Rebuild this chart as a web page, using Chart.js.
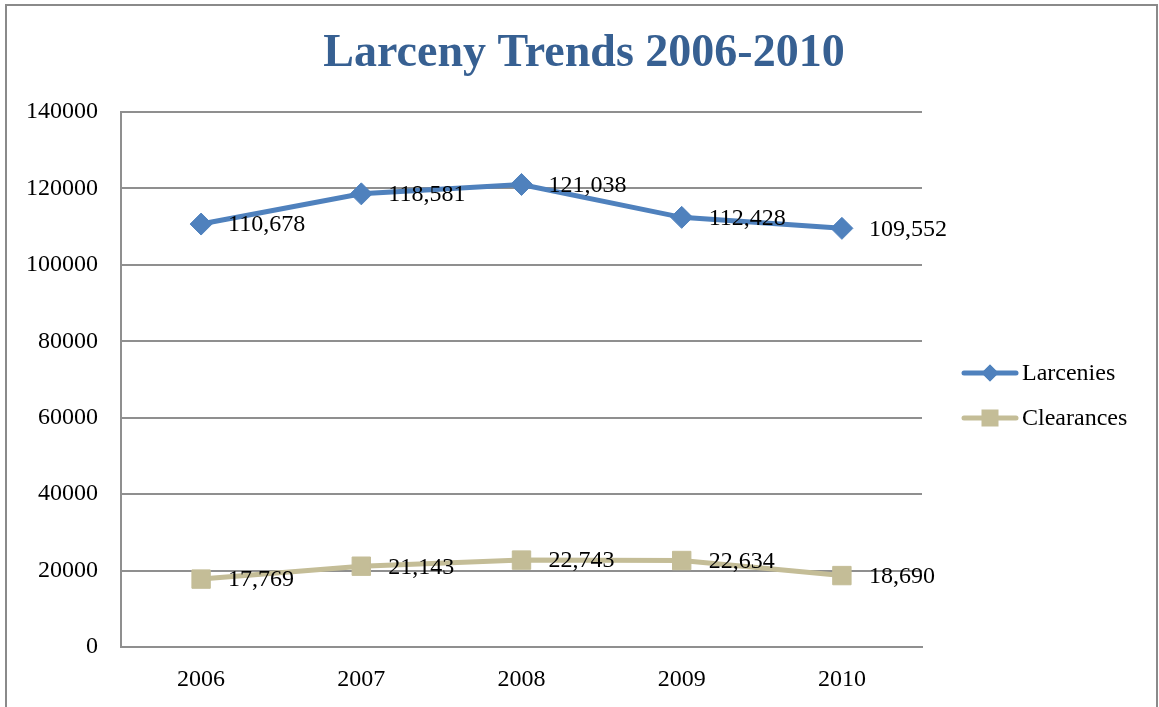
<!DOCTYPE html>
<html>
<head>
<meta charset="utf-8">
<script src="https://cdn.jsdelivr.net/npm/chart.js@4.4.1/dist/chart.umd.min.js"></script>
<style>
  html, body { margin: 0; padding: 0; background: #fff; }
  #wrap { position: relative; width: 1159px; height: 707px; }
</style>
</head>
<body>
<div id="wrap"><canvas id="c" width="1159" height="707"></canvas></div>
<script>
const titleText = 'Larceny Trends 2006-2010';
const categories = ['2006', '2007', '2008', '2009', '2010'];
const larcenies = [110678, 118581, 121038, 112428, 109552];
const clearances = [17769, 21143, 22743, 22634, 18690];
const yTicks = [0, 20000, 40000, 60000, 80000, 100000, 120000, 140000];

const FONT = '"Liberation Serif", "Times New Roman", serif';
const BLUE = '#4F81BD';
const TAN = '#C4BD97';
const GRID = '#8f8f8f';

const decor = {
  id: 'decor',
  afterDraw(chart) {
    const ctx = chart.ctx;
    ctx.save();
    // outer frame
    ctx.strokeStyle = '#8a8a8a';
    ctx.lineWidth = 2;
    ctx.strokeRect(6, 5, 1151, 720);
    // title
    ctx.fillStyle = '#376092';
    ctx.font = 'bold 46px ' + FONT;
    ctx.textAlign = 'center';
    ctx.textBaseline = 'alphabetic';
    ctx.fillText(titleText, 584, 66);
    // data labels
    ctx.fillStyle = '#000';
    ctx.font = '24px ' + FONT;
    ctx.textAlign = 'left';
    ctx.textBaseline = 'middle';
    chart.data.datasets.forEach((ds, i) => {
      const meta = chart.getDatasetMeta(i);
      meta.data.forEach((pt, j) => {
        ctx.fillText(ds.data[j].toLocaleString('en-US'), pt.x + 27, pt.y + 1);
      });
    });
    // legend
    const items = chart.data.datasets.map((ds, i) => ({ds, y: 373 + i * 45}));
    items.forEach(({ds, y}) => {
      ctx.strokeStyle = ds.borderColor;
      ctx.lineWidth = 5;
      ctx.lineCap = 'round';
      ctx.beginPath();
      ctx.moveTo(964, y);
      ctx.lineTo(1016, y);
      ctx.stroke();
      ctx.fillStyle = ds.borderColor;
      if (ds.pointStyle === 'rectRot') {
        Chart.helpers.drawPoint(ctx, {pointStyle: 'rectRot', radius: 8.5, borderWidth: 0}, 990, y);
        ctx.fill();
      } else {
        ctx.fillRect(990 - 8.5, y - 8.5, 17, 17);
      }
      ctx.fillStyle = '#000';
      ctx.font = '24px ' + FONT;
      ctx.textAlign = 'left';
      ctx.textBaseline = 'middle';
      ctx.fillText(ds.label, 1022, y + 1);
    });
    ctx.restore();
  }
};

new Chart(document.getElementById('c'), {
  type: 'line',
  data: {
    labels: categories,
    datasets: [
      {
        label: 'Larcenies',
        data: larcenies,
        borderColor: BLUE,
        backgroundColor: BLUE,
        borderWidth: 5,
        pointStyle: 'rectRot',
        pointRadius: 11,
        pointBorderWidth: 1,
        tension: 0
      },
      {
        label: 'Clearances',
        data: clearances,
        borderColor: TAN,
        backgroundColor: TAN,
        borderWidth: 5,
        pointStyle: 'rect',
        pointRadius: 13,
        pointBorderWidth: 1,
        tension: 0
      }
    ]
  },
  options: {
    responsive: false,
    animation: false,
    layout: { padding: { top: 112, right: 237, bottom: 0, left: 0 } },
    plugins: {
      legend: { display: false },
      title: { display: false },
      tooltip: { enabled: false }
    },
    scales: {
      x: {
        offset: true,
        grid: { display: false, drawTicks: false },
        border: { display: true, color: GRID, width: 2 },
        ticks: { color: '#000', font: { family: FONT, size: 24 }, padding: 18 },
        afterFit(s) { s.height = 60; }
      },
      y: {
        min: 0,
        max: 140000,
        afterBuildTicks(s) { s.ticks = yTicks.map(v => ({value: v})); },
        grid: { color: GRID, lineWidth: 2, drawTicks: false },
        border: { display: true, color: GRID, width: 2 },
        ticks: { color: '#000', font: { family: FONT, size: 24 }, padding: 23, callback: v => String(v) },
        afterFit(s) { s.width = 121; }
      }
    }
  },
  plugins: [decor]
});
</script>
</body>
</html>
